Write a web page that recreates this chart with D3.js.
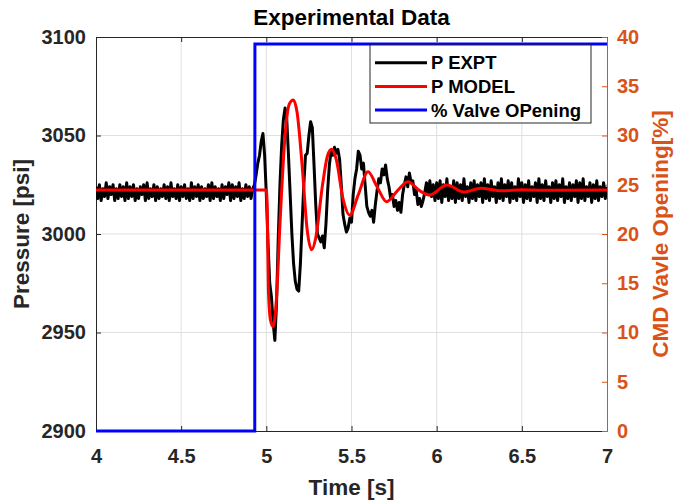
<!DOCTYPE html>
<html>
<head>
<meta charset="utf-8">
<script src="https://cdn.jsdelivr.net/npm/d3@7"></script>
<style>
  body { margin: 0; background: #fff; }
  text { font-family: "Liberation Sans", Arial, Helvetica, sans-serif; font-weight: bold; }
</style>
</head>
<body>
<svg width="675" height="502"></svg>
<script>
// data
const xTicks = [4, 4.5, 5, 5.5, 6, 6.5, 7]
const pTicks = [2900, 2950, 3000, 3050, 3100]
const vTicks = [0, 5, 10, 15, 20, 25, 30, 35, 40]

// experimental pressure, sampled every 0.01 s from 4.00 to 7.00
const exptP = [
  3024, 3018, 3025, 3017, 3023, 3019, 3026, 3018, 3024, 3020,
  3025, 3017, 3023, 3018, 3025, 3019, 3024, 3017, 3026, 3018,
  3024, 3019, 3025, 3017, 3023, 3018, 3024, 3020, 3025, 3017,
  3026, 3018, 3023, 3019, 3025, 3017, 3024, 3018, 3023, 3019,
  3025, 3018, 3024, 3017, 3026, 3019, 3023, 3018, 3025, 3017,
  3024, 3019, 3025, 3018, 3023, 3017, 3026, 3018, 3024, 3019,
  3025, 3017, 3024, 3018, 3023, 3019, 3025, 3017, 3026, 3018,
  3024, 3019, 3023, 3017, 3025, 3018, 3024, 3020, 3026, 3017,
  3025, 3018, 3024, 3019, 3026, 3017, 3023, 3018, 3025, 3019,
  3024, 3018, 3023, 3025, 3030, 3036, 3040, 3047, 3051, 3040,
  3020, 2995, 2975, 2968, 2955, 2946, 2965, 2998, 3025, 3045,
  3058, 3064, 3058, 3040, 3020, 3000, 2985, 2976, 2972, 2971,
  2985, 3005, 3025, 3040, 3041, 3050, 3057, 3054, 3035, 3015,
  3000, 2998, 2996, 2999, 2993, 3005, 3022, 3035, 3042, 3040,
  3044, 3041, 3043, 3038, 3025, 3010, 3005, 3001, 3003, 3008,
  3006, 3020, 3028, 3033, 3042, 3040, 3033, 3036, 3025, 3014,
  3011, 3009, 3012, 3006, 3015, 3022, 3028, 3026, 3033, 3030,
  3035, 3028, 3024, 3018, 3020, 3014, 3017, 3012, 3016, 3011,
  3020, 3025, 3029, 3024, 3031, 3026, 3027, 3020, 3022, 3015,
  3018, 3014, 3017, 3021, 3026, 3020, 3027, 3019, 3025, 3017,
  3026, 3018, 3027, 3016, 3025, 3019, 3028, 3017, 3024, 3018,
  3027, 3016, 3026, 3018, 3025, 3017, 3028, 3019, 3024, 3016,
  3026, 3018, 3027, 3017, 3025, 3019, 3026, 3016, 3028, 3018,
  3025, 3017, 3027, 3019, 3024, 3016, 3026, 3018, 3028, 3017,
  3025, 3019, 3027, 3016, 3026, 3018, 3024, 3017, 3028, 3019,
  3026, 3016, 3025, 3018, 3027, 3017, 3024, 3019, 3026, 3016,
  3028, 3018, 3025, 3017, 3027, 3019, 3024, 3016, 3026, 3018,
  3027, 3017, 3025, 3019, 3028, 3016, 3024, 3018, 3026, 3017,
  3025, 3019, 3027, 3016, 3026, 3018, 3028, 3017, 3024, 3019,
  3026, 3016, 3025, 3018, 3027, 3017, 3024, 3019, 3026, 3018,
  3024
]
const exptTime = exptP.map((d, i) => 4 + i * 0.01)

// model pressure (smooth)
const modelTime = [4, 5.0, 5.006, 5.012, 5.025, 5.04, 5.06, 5.08, 5.11, 5.135, 5.158, 5.18,
  5.21, 5.24, 5.266, 5.29, 5.33, 5.36, 5.383, 5.41, 5.45, 5.49, 5.54, 5.597, 5.65, 5.706,
  5.77, 5.83, 5.9, 5.96, 6.06, 6.16, 6.26, 6.38, 6.5, 6.65, 7]
const modelP = [3022.3, 3022.3, 3010, 2972, 2956, 2953, 2968, 3005, 3050, 3066, 3068, 3062,
  3035, 3002, 2992, 2998, 3025, 3040, 3043, 3038, 3018, 3009.6, 3020, 3031.6, 3024, 3016.4,
  3022, 3026.5, 3022, 3019.8, 3024.9, 3021.3, 3023.2, 3021.9, 3022.5, 3022.2, 3022.3]

// valve command
const valveTime = [4, 4.932, 4.933, 7]
const valveOpen = [0, 0, 39.3, 39.3]

const legendNames = ['P EXPT', 'P MODEL', '% Valve OPening']
const legendColors = ['#000000', '#ff0000', '#0000ff']

const svg = d3.select('svg')
const plotLeft = 96, plotTop = 37, plotRight = 607, plotBottom = 431
const dark = '#262626'
const orange = '#D95319'

const x = d3.scaleLinear().domain([4, 7]).range([plotLeft, plotRight])
const yP = d3.scaleLinear().domain([2900, 3100]).range([plotBottom, plotTop])
const yV = d3.scaleLinear().domain([0, 40]).range([plotBottom, plotTop])

// grid
const grid = svg.append('g').attr('stroke', '#dfdfdf').attr('stroke-width', 1)
grid.selectAll('.gx').data(xTicks.slice(1, -1)).join('line')
  .attr('x1', d => x(d)).attr('x2', d => x(d))
  .attr('y1', plotTop).attr('y2', plotBottom)
grid.selectAll('.gy').data(pTicks.slice(1, -1)).join('line')
  .attr('x1', plotLeft).attr('x2', plotRight)
  .attr('y1', d => yP(d)).attr('y2', d => yP(d))

function styleAxis(g, color, fontSize) {
  g.select('.domain').attr('stroke', color)
  g.selectAll('.tick line').attr('stroke', color)
  g.selectAll('.tick text').attr('fill', color).style('font-size', fontSize + 'px')
}

const xAxis = svg.append('g').attr('transform', `translate(0, ${plotBottom})`)
  .call(d3.axisBottom(x).tickValues(xTicks).tickFormat(d3.format('')).tickSizeInner(-5).tickSizeOuter(0).tickPadding(18))
styleAxis(xAxis, dark, 20)

const xTop = svg.append('g').attr('transform', `translate(0, ${plotTop})`)
  .call(d3.axisTop(x).tickValues(xTicks).tickFormat('').tickSizeInner(-5).tickSizeOuter(0))
styleAxis(xTop, dark, 20)

const yAxis = svg.append('g').attr('transform', `translate(${plotLeft}, 0)`)
  .call(d3.axisLeft(yP).tickValues(pTicks).tickFormat(d3.format('d')).tickSizeInner(-5).tickSizeOuter(0).tickPadding(10))
styleAxis(yAxis, dark, 20)

const yRight = svg.append('g').attr('transform', `translate(${plotRight}, 0)`)
  .call(d3.axisRight(yV).tickValues(vTicks).tickFormat(d3.format('d')).tickSizeInner(-5).tickSizeOuter(0).tickPadding(10))
styleAxis(yRight, orange, 20)

// data lines
svg.append('clipPath').attr('id', 'clip')
  .append('rect').attr('x', plotLeft).attr('y', plotTop - 2)
  .attr('width', plotRight - plotLeft).attr('height', plotBottom - plotTop + 4)
const plot = svg.append('g').attr('clip-path', 'url(#clip)')

const exptLine = d3.line().x(d => x(d[0])).y(d => yP(d[1]))
plot.append('path')
  .attr('d', exptLine(exptTime.map((t, i) => [t, exptP[i]])))
  .attr('fill', 'none').attr('stroke', '#000').attr('stroke-width', 3)
  .attr('stroke-linejoin', 'round')

const modelLine = d3.line().x(d => x(d[0])).y(d => yP(d[1])).curve(d3.curveMonotoneX)
plot.append('path')
  .attr('d', modelLine(modelTime.map((t, i) => [t, modelP[i]])))
  .attr('fill', 'none').attr('stroke', '#ff0000').attr('stroke-width', 3)

const valveLine = d3.line().x(d => x(d[0])).y(d => yV(d[1]))
plot.append('path')
  .attr('d', valveLine(valveTime.map((t, i) => [t, valveOpen[i]])))
  .attr('fill', 'none').attr('stroke', '#0000ff').attr('stroke-width', 3)

// titles
svg.append('text').attr('x', (plotLeft + plotRight) / 2).attr('y', 25)
  .attr('text-anchor', 'middle').style('font-size', '22.5px').attr('fill', '#000')
  .text('Experimental Data')
svg.append('text').attr('x', (plotLeft + plotRight) / 2).attr('y', 495)
  .attr('text-anchor', 'middle').style('font-size', '22.5px').attr('fill', dark)
  .text('Time [s]')
svg.append('text').attr('transform', `translate(29, ${(plotTop + plotBottom) / 2}) rotate(-90)`)
  .attr('text-anchor', 'middle').style('font-size', '22.5px').attr('fill', dark)
  .text('Pressure [psi]')
svg.append('text').attr('transform', `translate(668, ${(plotTop + plotBottom) / 2}) rotate(-90)`)
  .attr('text-anchor', 'middle').style('font-size', '22.5px').attr('fill', orange)
  .text('CMD Vavle Opening[%]')

// legend
const legend = svg.append('g').attr('transform', 'translate(370, 45)')
legend.append('rect').attr('width', 221).attr('height', 78)
  .attr('fill', '#fff').attr('stroke', dark).attr('stroke-width', 1)
const rows = legend.selectAll('.row').data(legendNames).join('g')
  .attr('transform', (d, i) => `translate(0, ${17.7 + i * 23.7})`)
rows.append('line').attr('x1', 5).attr('x2', 57)
  .attr('stroke', (d, i) => legendColors[i]).attr('stroke-width', 3)
rows.append('text').attr('x', 61).attr('dy', '0.35em')
  .style('font-size', '18.5px').attr('fill', '#000')
  .text(d => d)
</script>
</body>
</html>
